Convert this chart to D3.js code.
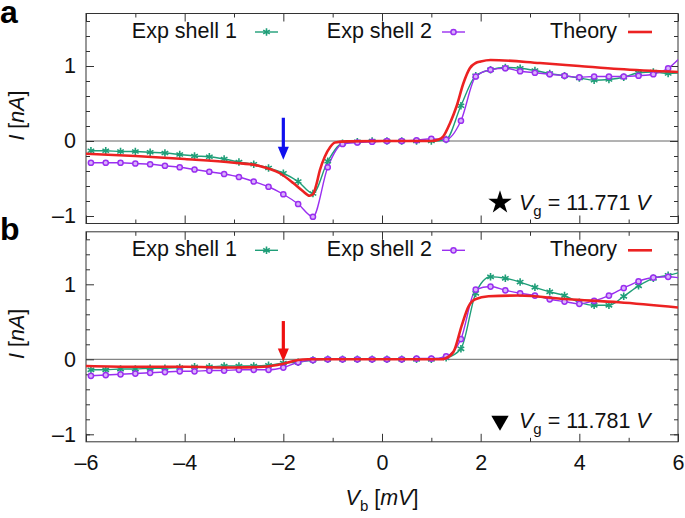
<!DOCTYPE html>
<html><head><meta charset="utf-8">
<script src="https://cdn.jsdelivr.net/npm/d3@7"></script>
<style>body{margin:0;background:#fff}svg{display:block;font-family:"Liberation Sans",Arial,sans-serif}</style>
</head><body><svg id="c" width="685" height="518"></svg>
<script>
// ---- data ----
const expX = [-5.9,-5.6,-5.3,-5.0,-4.7,-4.4,-4.1,-3.8,-3.5,-3.2,-2.9,-2.6,-2.3,-2.0,-1.7,-1.4,-1.1,-0.8,-0.5,-0.2,0.1,0.4,0.7,1.0,1.3,1.6,1.9,2.2,2.5,2.8,3.1,3.4,3.7,4.0,4.3,4.6,4.9,5.2,5.5,5.8,6.1];
const aShell1 = [-0.13,-0.13,-0.14,-0.14,-0.15,-0.16,-0.18,-0.20,-0.21,-0.24,-0.28,-0.31,-0.36,-0.43,-0.54,-0.70,-0.27,-0.03,-0.01,0,0,0,0,0,0.02,0.47,0.87,0.95,0.98,0.97,0.94,0.90,0.87,0.84,0.81,0.82,0.85,0.91,0.92,0.90,0.91];
const aShell2 = [-0.29,-0.29,-0.29,-0.30,-0.31,-0.33,-0.35,-0.38,-0.41,-0.44,-0.48,-0.54,-0.61,-0.71,-0.84,-1.01,-0.35,-0.04,-0.02,-0.01,0,0,0.01,0.03,0.02,0.27,0.86,0.95,0.97,0.93,0.91,0.89,0.87,0.85,0.86,0.86,0.86,0.87,0.89,0.97,1.15];
const aTheoryX = [-6,-5,-4,-3,-2.5,-2.07,-1.8,-1.6,-1.47,-1.4,-1.33,-1.26,-1.16,-1.05,-0.95,-0.7,0,1.0,1.15,1.24,1.38,1.51,1.65,1.78,1.9,2.0,2.2,3.2,4.0,4.8,6.0];
const aTheoryY = [-0.17,-0.20,-0.24,-0.29,-0.33,-0.43,-0.56,-0.67,-0.73,-0.71,-0.58,-0.39,-0.21,-0.08,-0.02,-0.005,0,0,0.02,0.06,0.24,0.46,0.77,0.97,1.04,1.06,1.08,1.04,1.0,0.96,0.92];

const bShell1 = [-0.14,-0.14,-0.13,-0.13,-0.12,-0.12,-0.11,-0.10,-0.10,-0.09,-0.09,-0.09,-0.08,-0.05,-0.04,-0.01,0,0,0,0,0,0,0,0,0.02,0.14,0.88,1.10,1.08,1.03,0.96,0.90,0.85,0.76,0.72,0.72,0.84,0.98,1.08,1.12,1.17];
const bShell2 = [-0.22,-0.21,-0.20,-0.19,-0.18,-0.17,-0.16,-0.16,-0.15,-0.15,-0.14,-0.14,-0.14,-0.11,-0.04,-0.01,0,0,0,0,0,0,0.01,0.01,0.04,0.27,0.93,0.97,0.92,0.88,0.85,0.80,0.77,0.74,0.78,0.85,0.95,1.04,1.09,1.10,1.08];
const bTheoryX = [-6,-5,-4,-3,-2.4,-2.0,-1.7,-1.5,1.2,1.28,1.45,1.62,1.75,1.89,2.16,2.77,3.78,4.8,6.0];
const bTheoryY = [-0.09,-0.10,-0.10,-0.11,-0.10,-0.06,-0.01,0,0,0.01,0.10,0.46,0.70,0.80,0.84,0.85,0.80,0.76,0.69];

const xTickMajor = [-6,-4,-2,0,2,4,6];
const xTickMinor = [-5,-3,-1,1,3,5];
const yTickMajor = [-1,0,1];
const yTickMinor = [-1.0,-0.8,-0.6,-0.4,-0.2,0.2,0.4,0.6,0.8,1.2,1.4,1.6];
const legendNames = ["Exp shell 1","Exp shell 2","Theory"];
const gateLabels = ["11.771","11.781"];
const panelLetters = ["a","b"];

// ---- styles ----
const C1 = "#1f9e78", C2 = "#9a2ff0", CT = "#ec2222";
const FS = 21.5;
const svg = d3.select("#c");
const x = d3.scaleLinear().domain([-6,6]).range([86,678]);
const minus = d => d<0? "\u2013"+Math.abs(d): String(d);
const panels = [
  {top:13.5, bot:223.5, s1:aShell1, s2:aShell2, tx:aTheoryX, ty:aTheoryY, arrow:"#1010ee", sym:d3.symbolStar, rot:0},
  {top:231.8, bot:441.8, s1:bShell1, s2:bShell2, tx:bTheoryX, ty:bTheoryY, arrow:"#ee1010", sym:d3.symbolTriangle, rot:180}
];

panels.forEach((p,i)=>{
  const y = d3.scaleLinear().domain([-1.1,1.7]).range([p.bot,p.top]);
  const g = svg.append("g");
  const cid = "clip"+i;
  svg.append("defs").append("clipPath").attr("id",cid).append("rect")
    .attr("x",86).attr("y",p.top).attr("width",592).attr("height",p.bot-p.top);

  // zero line
  g.append("line").attr("x1",86).attr("x2",678).attr("y1",y(0)).attr("y2",y(0))
    .attr("stroke","#666").attr("stroke-width",1);

  // axes (ticks inward, mirrored)
  const L = 8, l = 4;
  const axB = d3.axisBottom(x).tickValues(xTickMajor).tickSize(-L).tickFormat(minus);
  const axBm = d3.axisBottom(x).tickValues(xTickMinor).tickSize(-l).tickFormat("");
  const axT = d3.axisTop(x).tickValues(xTickMajor).tickSize(-L).tickFormat("");
  const axTm = d3.axisTop(x).tickValues(xTickMinor).tickSize(-l).tickFormat("");
  const axL = d3.axisLeft(y).tickValues(yTickMajor).tickSize(-L).tickFormat(minus);
  const axLm = d3.axisLeft(y).tickValues(yTickMinor).tickSize(-l).tickFormat("");
  const axR = d3.axisRight(y).tickValues(yTickMajor).tickSize(-L).tickFormat("");
  const axRm = d3.axisRight(y).tickValues(yTickMinor).tickSize(-l).tickFormat("");
  const mk = (ax,tr)=>{const a=g.append("g").attr("transform",tr).call(ax);
    a.select(".domain").remove();
    a.selectAll("line").attr("stroke","#333");
    a.selectAll("text").attr("font-size",FS).attr("font-family","Liberation Sans, Arial, sans-serif").attr("fill","#111");
    return a;};
  const b1 = mk(axB,`translate(0,${p.bot})`);
  if(i===1) b1.selectAll("text").attr("dy","1.15em"); else b1.selectAll("text").remove();
  mk(axBm,`translate(0,${p.bot})`);
  mk(axT,`translate(0,${p.top})`); mk(axTm,`translate(0,${p.top})`);
  const l1 = mk(axL,`translate(86,0)`);
  l1.selectAll("text").attr("x",-10);
  mk(axLm,`translate(86,0)`);
  mk(axR,`translate(678,0)`); mk(axRm,`translate(678,0)`);
  g.append("rect").attr("x",86).attr("y",p.top).attr("width",592).attr("height",p.bot-p.top)
    .attr("fill","none").attr("stroke","#333").attr("stroke-width",1);

  const pg = g.append("g").attr("clip-path",`url(#${cid})`);
  const line = d3.line().curve(d3.curveMonotoneX);
  const pts1 = expX.map((v,k)=>[x(v),y(p.s1[k])]);
  const pts2 = expX.map((v,k)=>[x(v),y(p.s2[k])]);
  const ptsT = p.tx.map((v,k)=>[x(v),y(p.ty[k])]);
  pg.append("path").attr("d",line(pts1)).attr("fill","none").attr("stroke",C1).attr("stroke-width",1.4);
  pg.append("path").attr("d",line(pts2)).attr("fill","none").attr("stroke",C2).attr("stroke-width",1.4);
  const star = d3.symbol().type(d3.symbolAsterisk).size(40);
  pg.selectAll(".m1").data(pts1).enter().append("path").attr("d",star)
    .attr("transform",d=>`translate(${d[0]},${d[1]})`).attr("stroke",C1).attr("stroke-width",1.6).attr("fill","none");
  pg.selectAll(".m2").data(pts2).enter().append("circle").attr("cx",d=>d[0]).attr("cy",d=>d[1]).attr("r",2.6)
    .attr("stroke",C2).attr("stroke-width",1.5).attr("fill","#d9b3fb");
  pg.append("path").attr("d",line(ptsT)).attr("fill","none").attr("stroke",CT).attr("stroke-width",2.6);

  // legend
  const ly = p.top + 18.5;
  const leg = [{tx:237, x0:255, x1:278, c:C1, m:"s"},{tx:432, x0:442, x1:465, c:C2, m:"c"},{tx:617, x0:628, x1:652, c:CT, m:""}];
  leg.forEach((e,k)=>{
    g.append("text").attr("x",e.tx).attr("y",ly+6).attr("text-anchor","end").attr("font-size",FS).attr("fill","#111").text(legendNames[k]);
    g.append("line").attr("x1",e.x0).attr("x2",e.x1).attr("y1",ly).attr("y2",ly).attr("stroke",e.c).attr("stroke-width",e.m?1.4:2.6);
    const mx=(e.x0+e.x1)/2;
    if(e.m==="s") g.append("path").attr("d",star).attr("transform",`translate(${mx},${ly})`).attr("stroke",C1).attr("stroke-width",1.6).attr("fill","none");
    if(e.m==="c") g.append("circle").attr("cx",mx).attr("cy",ly).attr("r",2.6).attr("stroke",C2).attr("stroke-width",1.5).attr("fill","#d9b3fb");
  });

  // arrow at Vb = -2
  const ax0 = x(-2), aTop = i===0? y(0.31): y(0.51), aTip = i===0? y(-0.25): y(-0.03);
  g.append("line").attr("x1",ax0).attr("x2",ax0).attr("y1",aTop).attr("y2",aTip-10).attr("stroke",p.arrow).attr("stroke-width",3.2);
  g.append("path").attr("d",`M${ax0-5.5},${aTip-13}L${ax0+5.5},${aTip-13}L${ax0},${aTip}Z`).attr("fill",p.arrow);

  // gate voltage annotation
  const gy = p.bot - 14;
  g.append("path").attr("d",d3.symbol().type(p.sym).size(i===0?170:130)())
    .attr("transform",`translate(500,${gy-7}) rotate(${p.rot})`).attr("fill","#000");
  const t = g.append("text").attr("x",519).attr("y",gy).attr("font-size",FS).attr("fill","#111");
  t.append("tspan").attr("font-style","italic").text("V");
  t.append("tspan").attr("font-size",15).attr("dy",6).text("g");
  t.append("tspan").attr("dy",-6).text(" = "+gateLabels[i]+" ");
  t.append("tspan").attr("font-style","italic").text("V");

  // y title
  const yc = (p.top+p.bot)/2 - 3;
  const yt = svg.append("text").attr("transform",`translate(24,${yc}) rotate(-90)`).attr("text-anchor","middle").attr("font-size",FS).attr("fill","#111");
  yt.append("tspan").attr("font-style","italic").text("I");
  yt.append("tspan").text(" [");
  yt.append("tspan").attr("font-style","italic").text("nA");
  yt.append("tspan").text("]");

  // panel letter
  svg.append("text").attr("x",0).attr("y",i===0?23:240).attr("font-size",32).attr("font-weight","bold").attr("fill","#000").text(panelLetters[i]);
});

// x title
const xt = svg.append("text").attr("x",382).attr("y",505).attr("text-anchor","middle").attr("font-size",FS).attr("fill","#111");
xt.append("tspan").attr("font-style","italic").text("V");
xt.append("tspan").attr("font-size",15).attr("dy",6).text("b");
xt.append("tspan").attr("dy",-6).text(" [");
xt.append("tspan").attr("font-style","italic").text("mV");
xt.append("tspan").text("]");
</script></body></html>
